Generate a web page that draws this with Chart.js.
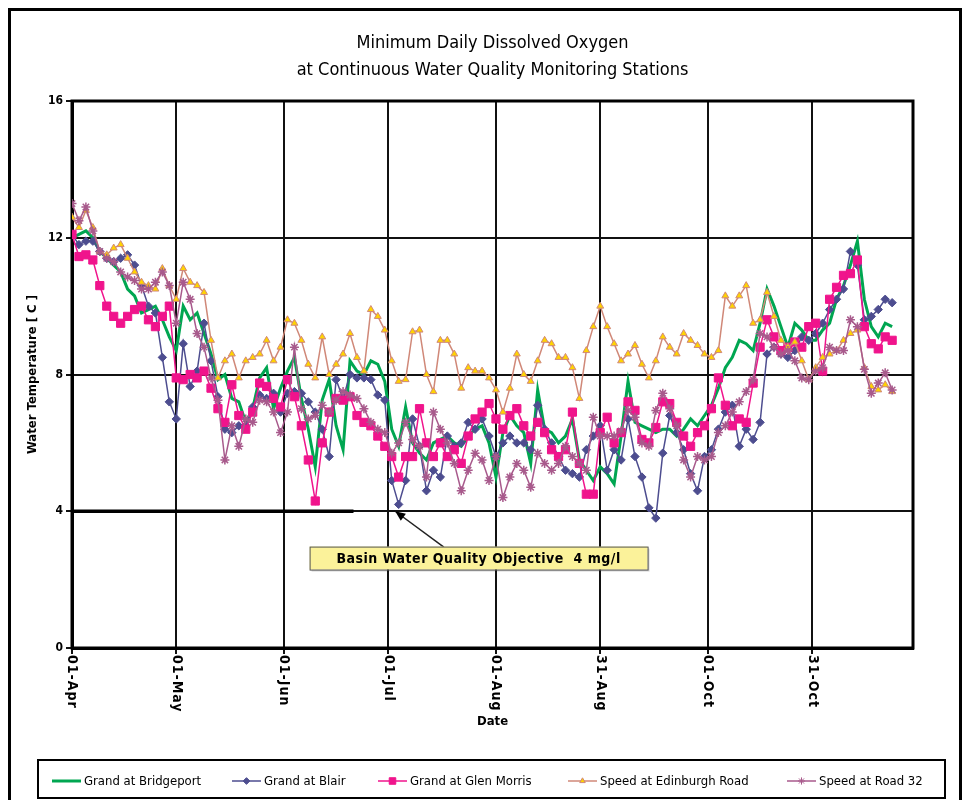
<!DOCTYPE html>
<html>
<head>
<meta charset="utf-8">
<script src="https://cdn.jsdelivr.net/npm/chart.js@4.4.1/dist/chart.umd.min.js"></script>
<style>
  html, body { margin: 0; padding: 0; background: #fff; }
  #wrap { position: relative; width: 967px; height: 800px; }
</style>
</head>
<body>
<div id="wrap"><canvas id="chart" width="967" height="800"></canvas></div>
<script>
// days since 01-Apr (every second day)
const days = [0,2,4,6,8,10,12,14,16,18,20,22,24,26,28,30,32,34,36,38,40,42,44,46,48,50,52,54,56,58,
  60,62,64,66,68,70,72,74,76,78,80,82,84,86,88,90,92,94,96,98,100,102,104,106,108,110,112,114,116,118,
  120,122,124,126,128,130,132,134,136,138,140,142,144,146,148,150,152,154,156,158,160,162,164,166,168,170,172,174,176,178,
  180,182,184,186,188,190,192,194,196,198,200,202,204,206,208,210,212,214,216,218,220,222,224,226,228,230,232,234,236];

const tickDays = [0, 30, 61, 91, 122, 152, 183, 213];
const tickLabels = ['01-Apr', '01-May', '01-Jun', '01-Jul', '01-Aug', '31-Aug', '01-Oct', '31-Oct'];
const yTicks = [0, 4, 8, 12, 16];

const bridgeport = [12.0,12.1,12.2,12.0,11.6,11.4,11.2,11.0,10.5,10.3,9.8,9.9,10.0,9.6,9.1,8.7,10.0,9.6,9.8,9.2,
  8.6,7.85,8.0,7.3,7.2,6.6,7.0,7.9,8.2,7.0,7.6,8.1,8.5,7.3,6.4,5.3,7.25,7.85,6.5,5.8,
  8.4,8.1,8.0,8.4,8.3,7.8,6.4,5.9,7.05,6.0,5.7,5.5,6.0,6.1,6.2,6.0,5.9,6.2,6.4,6.5,
  6.0,5.0,6.3,6.8,6.5,6.3,5.4,7.55,6.4,6.3,6.0,6.2,6.7,5.5,5.2,4.9,5.3,5.1,4.8,6.2,
  7.8,6.6,6.5,6.4,6.3,6.4,6.4,6.2,6.4,6.7,6.5,6.8,7.1,7.6,8.2,8.5,9.0,8.9,8.7,9.5,
  10.5,10.0,9.4,8.8,9.5,9.3,9.0,9.0,9.3,9.5,10.2,10.6,11.2,11.9,10.2,9.4,9.1,9.5,9.4];

const blair = [12.1,11.8,11.9,11.9,11.6,11.4,11.3,11.4,11.5,11.2,10.6,10.0,9.8,8.5,7.2,6.7,8.9,7.65,8.1,9.5,
  8.4,7.35,6.4,6.3,6.5,6.5,7.05,7.4,7.3,7.45,6.9,7.45,7.5,7.45,7.2,6.9,6.4,5.6,7.85,7.3,
  8.0,7.9,7.9,7.85,7.4,7.25,4.9,4.2,4.9,6.7,5.9,4.6,5.2,5.0,6.2,5.9,6.0,6.6,6.4,6.7,
  6.2,5.6,6.0,6.2,6.0,6.0,5.8,7.1,6.4,6.0,5.6,5.2,5.1,5.0,5.8,6.2,6.5,5.2,5.8,5.5,
  6.7,5.6,5.0,4.1,3.8,5.7,6.8,6.3,5.8,5.1,4.6,5.6,5.8,6.4,6.9,7.1,5.9,6.4,6.1,6.6,
  8.6,8.8,8.6,8.5,8.7,9.1,9.0,9.2,9.5,9.9,10.2,10.5,11.6,11.2,9.6,9.7,9.9,10.2,10.1];

const glenMorris = [12.1,11.45,11.5,11.35,10.6,10.0,9.7,9.5,9.7,9.9,10.0,9.6,9.4,9.7,10.0,7.9,7.85,8.0,7.9,8.1,
  7.6,7.0,6.6,7.7,6.8,6.4,6.9,7.75,7.65,7.3,7.05,7.85,7.35,6.5,5.5,4.3,6.0,6.9,7.3,7.25,
  7.35,6.8,6.6,6.5,6.2,5.9,5.6,5.0,5.6,5.6,7.0,6.0,5.6,6.0,5.6,5.8,5.4,6.2,6.7,6.9,
  7.15,6.7,6.4,6.8,7.0,6.5,6.2,6.6,6.3,5.8,5.6,5.8,6.9,5.4,4.5,4.5,6.3,6.75,6.0,6.3,
  7.2,6.95,6.1,6.0,6.45,7.2,7.15,6.6,6.2,5.9,6.3,6.5,7.0,7.9,7.1,6.5,6.7,6.6,7.75,8.8,
  9.6,9.1,8.7,8.8,8.95,8.8,9.4,9.5,8.1,10.2,10.55,10.9,10.95,11.35,9.4,8.9,8.75,9.1,9.0];

const edinburghRd = [12.6,12.3,12.8,12.3,11.6,11.5,11.7,11.8,11.4,11.0,10.7,10.6,10.5,11.1,10.6,10.2,11.1,10.7,10.6,10.4,
  9.0,7.9,8.4,8.6,7.9,8.4,8.5,8.6,9.0,8.4,8.8,9.6,9.5,9.0,8.3,7.9,9.1,8.0,8.3,8.6,
  9.2,8.5,8.1,9.9,9.7,9.3,8.4,7.8,7.85,9.25,9.3,8.0,7.5,9.0,9.0,8.6,7.6,8.2,8.1,8.1,
  7.9,7.55,6.9,7.6,8.6,8.0,7.8,8.4,9.0,8.9,8.5,8.5,8.2,7.3,8.7,9.4,10.0,9.4,8.9,8.4,
  8.6,8.85,8.3,7.9,8.4,9.1,8.8,8.6,9.2,9.0,8.85,8.6,8.5,8.7,10.3,10.0,10.3,10.6,9.5,9.6,
  10.4,9.7,9.0,8.8,8.95,8.4,7.85,8.2,8.5,8.6,8.7,9.0,9.2,9.3,8.2,7.65,7.55,7.7,7.5];

const road32 = [13.0,12.5,12.9,12.2,11.6,11.4,11.3,11.0,10.85,10.75,10.5,10.5,10.7,11.0,10.6,9.5,10.7,10.2,9.2,8.8,
  7.9,7.25,5.5,6.5,5.9,6.7,6.6,7.25,7.2,6.9,6.3,6.9,8.8,7.0,6.7,6.8,7.1,6.9,7.25,7.5,
  7.4,7.3,7.0,6.6,6.4,6.3,5.7,6.0,6.6,6.1,5.9,5.0,6.9,6.4,6.0,5.4,4.6,5.2,5.7,5.5,
  4.9,5.6,4.4,5.0,5.4,5.2,4.7,5.7,5.4,5.2,5.4,5.9,5.6,5.4,5.2,6.75,6.2,6.2,6.2,6.35,
  6.95,6.75,6.0,5.9,6.95,7.45,7.0,6.5,5.5,5.0,5.6,5.5,5.6,6.3,6.5,6.9,7.2,7.5,7.85,9.2,
  9.1,8.8,8.6,8.7,8.4,7.9,7.85,8.1,8.2,8.8,8.7,8.7,9.6,9.4,8.15,7.45,7.75,8.05,7.55];

const seriesNames = ['Grand at Bridgeport', 'Grand at Blair', 'Grand at Glen Morris', 'Speed at Edinburgh Road', 'Speed at Road 32'];

const objectiveValue = 4;
const objectiveSpan = [0, 81];
const objectiveText = 'Basin Water Quality Objective  4 mg/l';
const arrowTail = { day: 107, value: 2.95 };
const arrowHead = { day: 93, value: 4.0 };
const labelAt = { day: 117, value: 2.63 };

const FONT = '"Liberation Sans Narrow", "DejaVu Sans Condensed", "Liberation Sans", Arial, sans-serif';
const toXY = (xs, ys) => xs.map((d, i) => ({ x: d, y: ys[i] }));

const styles = [
  { color: '#00A651', width: 3, point: false, radius: 0 },
  { color: '#4D4D8F', width: 1.5, point: 'rectRot', radius: 4.2, fill: '#4D4D8F' },
  { color: '#F0148C', width: 1.5, point: 'rect', radius: 5.8, fill: '#F0148C' },
  { color: '#D08878', width: 1.5, point: 'triangle', radius: 4, fill: '#FFD400' },
  { color: '#A85A8C', width: 1.5, point: 'star', radius: 4.5, fill: '#A85A8C' }
];
const seriesValues = [bridgeport, blair, glenMorris, edinburghRd, road32];

const datasets = seriesValues.map((vals, i) => ({
  label: seriesNames[i],
  data: toXY(days, vals),
  borderColor: styles[i].color,
  borderWidth: styles[i].width,
  backgroundColor: styles[i].fill || styles[i].color,
  pointStyle: styles[i].point,
  pointRadius: styles[i].radius,
  pointBorderColor: styles[i].color,
  pointBorderWidth: i === 4 ? 1.5 : 1,
  pointBackgroundColor: styles[i].fill || styles[i].color,
  tension: 0,
  order: 4 - i
}));

// --- extra drawing: frames, title, objective note, x labels, legend ---
const decorations = {
  id: 'decorations',
  beforeDatasetsDraw(chart) {
    const { ctx, chartArea: a, scales: { x, y } } = chart;
    ctx.save();
    // thick objective segment
    ctx.strokeStyle = '#000';
    ctx.lineWidth = 3.5;
    ctx.beginPath();
    ctx.moveTo(x.getPixelForValue(objectiveSpan[0]), y.getPixelForValue(objectiveValue));
    ctx.lineTo(x.getPixelForValue(objectiveSpan[1]), y.getPixelForValue(objectiveValue));
    ctx.stroke();
    // plot frame
    ctx.lineWidth = 3;
    ctx.strokeRect(a.left, a.top, a.right - a.left, a.bottom - a.top);
    ctx.restore();
  },
  afterDraw(chart) {
    const { ctx, chartArea: a, scales: { x, y } } = chart;
    ctx.save();
    // outer frame
    ctx.strokeStyle = '#000';
    ctx.lineWidth = 3;
    ctx.strokeRect(9.5, 9.5, 951, 800);

    // title
    ctx.fillStyle = '#000';
    ctx.textAlign = 'center';
    ctx.textBaseline = 'middle';
    ctx.font = '18px ' + FONT;
    const cx = (a.left + a.right) / 2;
    ctx.fillText('Minimum Daily Dissolved Oxygen', cx, 43);
    ctx.fillText('at Continuous Water Quality Monitoring Stations', cx, 70);

    // x tick labels, rotated to read downward
    ctx.font = 'bold 14px ' + FONT;
    ctx.letterSpacing = '1px';
    ctx.textAlign = 'left';
    tickDays.forEach((d, i) => {
      const px = x.getPixelForValue(d);
      ctx.save();
      ctx.translate(px, a.bottom + 7);
      ctx.rotate(Math.PI / 2);
      ctx.fillText(tickLabels[i], 0, 0);
      ctx.restore();
    });
    ctx.letterSpacing = '0px';
    ctx.textAlign = 'center';
    ctx.font = 'bold 13px ' + FONT;
    ctx.fillText('Date', cx, 722);

    // arrow to objective line
    const tx = x.getPixelForValue(arrowTail.day), ty = y.getPixelForValue(arrowTail.value);
    const hx = x.getPixelForValue(arrowHead.day), hy = y.getPixelForValue(arrowHead.value);
    ctx.strokeStyle = '#222';
    ctx.lineWidth = 1.5;
    ctx.beginPath();
    ctx.moveTo(tx, ty);
    ctx.lineTo(hx, hy);
    ctx.stroke();
    const ang = Math.atan2(hy - ty, hx - tx);
    ctx.fillStyle = '#000';
    ctx.beginPath();
    ctx.moveTo(hx, hy);
    ctx.lineTo(hx - 11 * Math.cos(ang - 0.4), hy - 11 * Math.sin(ang - 0.4));
    ctx.lineTo(hx - 11 * Math.cos(ang + 0.4), hy - 11 * Math.sin(ang + 0.4));
    ctx.closePath();
    ctx.fill();

    // objective label box
    const lx = x.getPixelForValue(labelAt.day), ly = y.getPixelForValue(labelAt.value);
    const bw = 338, bh = 23;
    ctx.fillStyle = 'rgba(0,0,0,0.15)';
    ctx.fillRect(lx - bw / 2 + 2, ly - bh / 2 + 2, bw, bh);
    ctx.fillStyle = '#FBF29A';
    ctx.fillRect(lx - bw / 2, ly - bh / 2, bw, bh);
    ctx.strokeStyle = '#555';
    ctx.lineWidth = 1;
    ctx.strokeRect(lx - bw / 2 + 0.5, ly - bh / 2 + 0.5, bw, bh);
    ctx.fillStyle = '#000';
    ctx.font = 'bold 14px ' + FONT;
    ctx.letterSpacing = '0.5px';
    ctx.fillText(objectiveText, lx, ly + 1);
    ctx.letterSpacing = '0px';

    // legend
    ctx.strokeStyle = '#000';
    ctx.lineWidth = 2;
    ctx.strokeRect(38, 760, 907, 38);
    const starts = [52, 232, 378, 568, 787];
    ctx.font = '13px ' + FONT;
    ctx.textAlign = 'left';
    chart.data.datasets.forEach((ds, i) => {
      const sx = starts[i], sy = 781;
      ctx.strokeStyle = ds.borderColor;
      ctx.lineWidth = ds.borderWidth;
      ctx.beginPath();
      ctx.moveTo(sx, sy);
      ctx.lineTo(sx + 29, sy);
      ctx.stroke();
      if (ds.pointStyle) {
        ctx.fillStyle = ds.pointBackgroundColor;
        ctx.strokeStyle = ds.pointBorderColor;
        ctx.lineWidth = 1;
        Chart.helpers.drawPoint(ctx, { pointStyle: ds.pointStyle, radius: ds.pointRadius * 0.8, rotation: 0, borderWidth: 1 }, sx + 14.5, sy);
      }
      ctx.fillStyle = '#000';
      ctx.fillText(ds.label, sx + 32, sy + 1);
    });
    ctx.restore();
  }
};

new Chart(document.getElementById('chart'), {
  type: 'line',
  data: { datasets },
  options: {
    responsive: false,
    animation: false,
    devicePixelRatio: 1,
    layout: { padding: { top: 101, right: 54, left: 0, bottom: 0 } },
    plugins: { legend: { display: false }, title: { display: false }, tooltip: { enabled: false } },
    scales: {
      x: {
        type: 'linear', min: 0, max: 242,
        afterBuildTicks: s => { s.ticks = tickDays.map(v => ({ value: v })); },
        afterFit: s => { s.height = 152; },
        grid: { color: '#111', lineWidth: 2, tickLength: 6, tickColor: '#111' },
        border: { color: '#000', width: 3 },
        ticks: { display: false }
      },
      y: {
        min: 0, max: 16,
        afterBuildTicks: s => { s.ticks = yTicks.map(v => ({ value: v })); },
        afterFit: s => { s.width = 72; },
        grid: { color: '#111', lineWidth: 2, tickLength: 6, tickColor: '#111' },
        border: { color: '#000', width: 3 },
        ticks: { color: '#000', padding: 3, font: { family: FONT, size: 12, weight: 'bold' } },
        title: {
          display: true, text: 'Water Temperature [ C ]', color: '#000',
          font: { family: FONT, size: 13, weight: 'bold' }, padding: { top: 25, bottom: 0 }
        }
      }
    }
  },
  plugins: [decorations]
});
</script>
</body>
</html>
